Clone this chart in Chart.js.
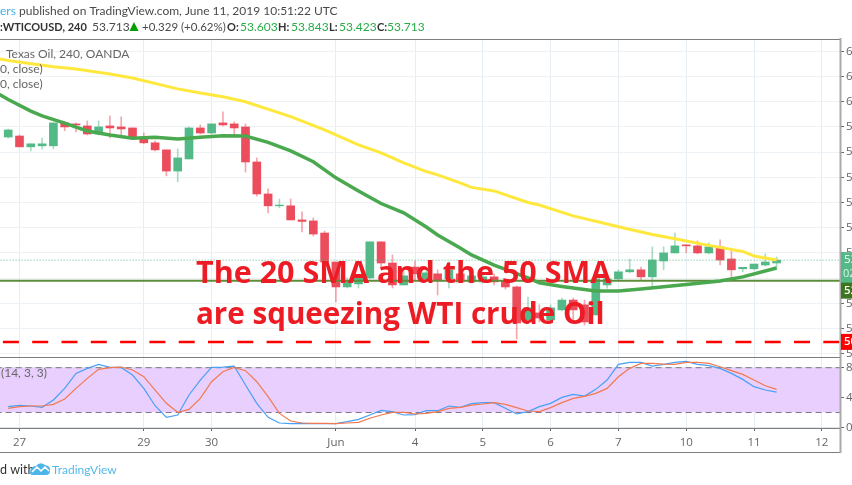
<!DOCTYPE html>
<html>
<head>
<meta charset="utf-8">
<style>html,body{margin:0;padding:0;background:#fff;overflow:hidden}canvas{display:block}</style>
<script src="https://cdn.jsdelivr.net/npm/chart.js@4"></script>
</head>
<body>
<div style="width:852px;height:485px"><canvas id="c" width="852" height="485"></canvas></div>
<script>
const open = [58.60,58.64,58.21,58.25,58.25,59.16,59.12,59.04,58.72,59.04,59.00,58.96,58.60,58.37,58.09,57.25,57.73,58.96,58.76,59.16,59.12,59.00,57.61,56.34,55.87,55.87,55.31,55.27,54.79,53.64,52.65,52.77,53.01,54.44,53.60,52.73,53.44,52.97,53.17,52.97,53.17,52.85,52.85,53.05,52.89,52.65,51.34,51.62,51.34,51.74,52.13,51.94,51.54,52.73,52.97,53.25,53.33,53.05,53.68,54.00,54.32,54.28,54.00,54.24,53.76,53.37,53.37,53.52,53.60];
const close = [58.88,58.21,58.33,58.33,59.16,59.00,59.08,58.72,59.00,58.96,58.92,58.60,58.37,58.09,57.25,57.77,58.96,58.76,59.12,59.08,58.96,57.61,56.34,55.87,55.90,55.31,55.25,54.75,53.64,52.65,52.90,53.01,54.44,53.60,52.73,53.09,53.17,53.21,52.89,53.33,52.85,53.09,53.05,52.85,52.65,51.22,51.82,51.42,51.82,52.13,51.74,51.26,52.97,52.97,53.25,53.33,53.05,53.72,54.00,54.28,54.28,54.00,54.24,53.72,53.33,53.43,53.56,53.64,53.713];
const high = [58.92,58.68,58.33,58.56,59.16,59.20,59.16,59.24,59.24,59.44,59.40,58.96,58.76,58.44,58.09,58.13,59.00,59.08,59.12,59.60,59.20,59.12,57.77,56.54,56.14,56.14,55.63,55.39,54.87,53.64,53.01,53.13,54.44,54.44,53.92,53.33,53.68,53.40,53.33,53.64,53.40,53.21,53.13,53.17,52.93,52.69,52.25,51.94,51.94,52.21,52.21,52.13,52.97,53.09,53.33,53.76,53.44,54.24,54.24,54.79,54.32,54.48,54.40,54.52,54.12,53.40,53.40,53.96,53.84];
const low = [58.56,58.21,58.05,58.13,58.13,58.85,58.80,58.68,58.68,58.56,58.60,58.56,58.33,58.05,57.06,56.82,57.73,58.72,58.72,59.04,58.60,57.21,56.26,55.59,55.79,55.31,54.83,54.67,53.56,52.06,52.61,52.61,52.97,53.44,52.61,52.73,52.93,52.85,52.33,52.61,52.85,52.81,52.81,52.73,52.57,50.59,51.22,51.26,51.26,51.70,51.26,51.14,51.54,52.60,52.89,53.21,52.93,52.61,53.33,54.00,54.00,53.96,53.96,53.52,52.99,53.25,53.33,53.48,53.40];

const sma50Idx = [-1,0,4,6,9,11,15,17,19,21,25,28,31,33,35,37,38,40,41,43,46,47,50,53,54,57,59,62,65,66,68];
const sma50Val = [61.72,61.64,61.39,61.30,61.10,60.94,60.51,60.35,60.20,60.00,59.41,58.88,58.29,57.97,57.57,57.23,57.10,56.78,56.60,56.46,56.00,55.90,55.47,55.15,55.04,54.73,54.56,54.30,54.06,53.88,53.72];
const sma20Idx = [-1,0,2,3,5,7,9,11,13,15,17,19,21,23,25,27,29,31,33,35,37,38,40,41,43,46,47,49,52,54,56,60,63,65,68];
const sma20Val = [60.35,60.09,59.63,59.44,59.15,58.84,58.68,58.55,58.59,58.52,58.59,58.65,58.64,58.39,58.05,57.62,56.98,56.46,55.96,55.59,55.03,54.71,54.20,53.92,53.52,53.01,52.81,52.67,52.49,52.49,52.57,52.75,52.89,53.05,53.40];

const stochK = [27.6,29.4,28.5,26.7,36.6,52.2,72.4,79.1,84.5,80.4,80.4,70.1,52.2,28.9,13.3,16.4,43.3,63.4,80.4,80.9,82.2,56.7,32.1,13.3,5.7,4.8,5.2,4.8,4.8,4.8,7.5,10.6,16.4,22.7,20.9,16.4,16.9,22.2,22.2,28.5,26.7,31.6,33,33,25.4,17.8,20.9,27.6,32.1,40.1,44.2,41.9,50.9,63.4,84.5,87.2,87.2,82.2,84.5,87.2,88.5,84.5,82.7,79.1,72.4,64.3,54.5,50,47.3];
const stochD = [25.4,27.6,28.5,28.5,30.7,37.9,52.2,65.7,77.8,80,80.9,76.9,67.9,50,32.1,20,24,38.8,61.2,74.6,80.4,76,61.2,41,18.6,8.3,5.7,5.2,5.2,4.8,5.7,6.6,12,16.4,20,20,17.8,18.6,20.9,25.4,26.7,29.8,31.2,33,30.7,26.3,21.8,20.9,26.3,33,38.8,41.5,45.5,52.2,67.9,79.1,85.8,85.8,84.9,84.5,87.2,87.2,85.8,81.3,76,71,63.4,55.8,50.9];

const priceTicks = [50,51,52,53,54,55,56,57,58,59,60,61,62];
const stochTicks = [0,40,80];
const timeTickIdx = [1,12,18,29,36,42,48,54,60,66,72];
const timeTickLabels = ['27','29','30','Jun','4','5','6','7','10','11','12'];

const lastPrice = 53.713;
const supportLevel = 52.90;
const lowLevel = 50.47;
const stochUpper = 80;
const stochLower = 20;

const UP = '#53b987', DOWN = '#eb4d5c';
const FONT = '"Open Sans", sans-serif';
const HEAD = 'Lato, sans-serif';
const xMin = -0.726, xMax = 73.61;
const idx = open.map((_, i) => i);
const flat = (v) => [{x:-2,y:v},{x:75,y:v}];
const line = (xs, ys) => xs.map((x, i) => ({x, y: ys[i]}));
const colors = idx.map(i => close[i] >= open[i] ? UP : DOWN);
const wickColors = idx.map(i => close[i] >= open[i] ? 'rgba(83,185,135,.5)' : 'rgba(235,77,92,.5)');

const overlay = {
  id: 'overlay',
  afterDraw(chart) {
    const c = chart.ctx, a = chart.chartArea, y = chart.scales.y, x = chart.scales.x;
    const text = (t, px, py, font, col, align) => {
      c.font = font; c.fillStyle = col; c.textAlign = align || 'left'; c.textBaseline = 'middle'; c.fillText(t, px, py);
    };
    c.save();
    // frame
    c.strokeStyle = '#7d7d7d'; c.lineWidth = 1;
    [a.top - .5, y.bottom, a.bottom, x.bottom].forEach(v => {
      c.beginPath(); c.moveTo(0, Math.round(v) + .5); c.lineTo(a.right, Math.round(v) + .5); c.stroke();
    });
    c.strokeStyle = '#aaaaaa'; c.lineWidth = 2;
    c.beginPath(); c.moveTo(a.right + .5, a.top - 1); c.lineTo(a.right + .5, x.bottom + 1); c.stroke();

    // price tags on the axis
    const tag = (top, bottom, bg, label) => {
      c.fillStyle = bg; c.fillRect(a.right + 1, top, 12, bottom - top);
      text(label, a.right + 4, (top + bottom) / 2, '600 11.5px ' + FONT, '#fff');
    };
    const ly = y.getPixelForValue(lastPrice);
    c.fillStyle = '#53b987'; c.fillRect(a.right + 1, ly - 8, 12, 31);
    text(lastPrice.toFixed(3), a.right + 4, ly, '11.5px ' + FONT, '#fff');
    text('02:08:38', a.right + 3, ly + 14, '11px ' + FONT, '#dff3e8');
    tag(y.getPixelForValue(supportLevel) + 2, y.getPixelForValue(supportLevel) + 18, '#3b761c', supportLevel.toFixed(3));
    tag(y.getPixelForValue(lowLevel) - 8, y.getPixelForValue(lowLevel) + 8, '#ff0000', lowLevel.toFixed(3));

    // header
    const g = '#4a4a4a', gr = '#27ae48';
    const f = '12px ' + HEAD, fb = 'bold 11px ' + HEAD;
    text('ers', 0, 11, f, '#45b0e6');
    text('published on TradingView.com, June 11, 2019 10:51:22 UTC', 19, 11, f, g);
    text(':WTICOUSD, 240', 0, 27, fb, '#333');
    text('53.713', 92, 27, f, g);
    c.fillStyle = '#00a000'; c.beginPath(); c.moveTo(134, 22); c.lineTo(138.5, 31); c.lineTo(129.5, 31); c.closePath(); c.fill();
    text('+0.329 (+0.62%)', 142, 27, '11.5px ' + HEAD, g);
    text('O:', 227, 27, fb, '#333'); text('53.603', 240, 27, f, gr);
    text('H:', 278, 27, fb, '#333'); text('53.843', 291, 27, f, gr);
    text('L:', 329, 27, fb, '#333'); text('53.423', 339, 27, f, gr);
    text('C:', 377, 27, fb, '#333'); text('53.713', 387, 27, f, gr);

    // study legends
    text('Texas Oil, 240, OANDA', 6, 54, f, '#666');
    text('0, close)', 0, 69, f, '#666');
    text('0, close)', 0, 84, f, '#666');
    text('(14, 3, 3)', 1, 373, f, '#666');

    // footer
    text('d with', 0, 470, '12.5px ' + HEAD, '#333');
    c.fillStyle = '#4db6e8';
    c.beginPath(); c.moveTo(30, 473); c.quadraticCurveTo(30, 466, 36, 466); c.quadraticCurveTo(40, 461, 45, 465);
    c.quadraticCurveTo(51, 466, 50, 471); c.quadraticCurveTo(50, 475, 46, 475); c.lineTo(34, 475); c.quadraticCurveTo(30, 475, 30, 473); c.fill();
    c.strokeStyle = '#fff'; c.lineWidth = 1.5; c.beginPath(); c.moveTo(32, 472); c.lineTo(37, 467); c.lineTo(41, 471); c.lineTo(45, 467); c.lineTo(49, 471); c.stroke();
    text('TradingView', 52, 470, '12px ' + HEAD, '#55b8ea');

    // annotation
    const red = '#ed1c24';
    text('The 20 SMA and the 50 SMA', 196, 274, 'bold 30.5px ' + FONT, red);
    text('are squeezing WTI crude Oil', 196, 316, 'bold 29.6px ' + FONT, red);
    c.restore();
  }
};

new Chart(document.getElementById('c'), {
  type: 'bar',
  plugins: [overlay],
  data: {
    datasets: [
      { label: 'wick', data: idx.map(i => ({x:i, y:[low[i], high[i]]})), backgroundColor: wickColors, barThickness: 1, grouped: false, yAxisID: 'y', order: 9 },
      { label: 'body', data: idx.map(i => ({x:i, y:[open[i], close[i]]})), backgroundColor: colors, barThickness: 8, grouped: false, yAxisID: 'y', order: 8 },
      { type: 'line', label: 'SMA 50', data: line(sma50Idx, sma50Val), borderColor: '#ffe83d', borderWidth: 3, pointRadius: 0, tension: 0, yAxisID: 'y', order: 3 },
      { type: 'line', label: 'SMA 20', data: line(sma20Idx, sma20Val), borderColor: '#4aa84f', borderWidth: 3.5, pointRadius: 0, tension: 0, yAxisID: 'y', order: 2 },
      { type: 'line', label: 'Support', data: flat(supportLevel), borderColor: '#5d8c3a', borderWidth: 2, pointRadius: 0, yAxisID: 'y', order: 4 },
      { type: 'line', label: 'Last', data: flat(lastPrice), borderColor: '#53b987', borderWidth: 1, borderDash: [1,2], pointRadius: 0, yAxisID: 'y', order: 5 },
      { type: 'line', label: 'Low', data: flat(lowLevel), borderColor: '#ff0000', borderWidth: 2.5, borderDash: [16,13.3], borderDashOffset: 12, pointRadius: 0, yAxisID: 'y', order: 1 },
      { type: 'line', label: 'Upper', data: flat(stochUpper), borderColor: '#8d8a94', borderWidth: 1.2, borderDash: [6,4], pointRadius: 0, fill: '+1', backgroundColor: '#e9cffe', yAxisID: 's', order: 7 },
      { type: 'line', label: 'Lower', data: flat(stochLower), borderColor: '#5c5a66', borderWidth: 1.2, borderDash: [6,4], pointRadius: 0, yAxisID: 's', order: 7 },
      { type: 'line', label: '%D', data: line(idx, stochD), borderColor: '#f2794f', borderWidth: 1.2, pointRadius: 0, yAxisID: 's', order: 6 },
      { type: 'line', label: '%K', data: line(idx, stochK), borderColor: '#47a0f5', borderWidth: 1.2, pointRadius: 0, yAxisID: 's', order: 6.5 }
    ]
  },
  options: {
    responsive: false,
    animation: false,
    layout: { autoPadding: false, padding: { top: 39, bottom: 33, left: 0, right: 0 } },
    plugins: { legend: { display: false }, tooltip: { enabled: false } },
    scales: {
      x: {
        type: 'linear', min: xMin, max: xMax, offset: false,
        grid: { offset: false, color: '#e6eef3', lineWidth: 1, tickLength: 3, tickColor: '#666' },
        border: { display: false },
        afterBuildTicks(sc) { sc.ticks = timeTickIdx.map(v => ({value: v})); },
        afterFit(sc) { sc.height = 24; },
        ticks: { autoSkip: false, maxRotation: 0, padding: 5, color: '#666', font: { family: FONT, size: 11.5 },
                 callback: v => timeTickLabels[timeTickIdx.indexOf(v)] }
      },
      y: {
        type: 'linear', position: 'right', stack: 'panes', stackWeight: 318,
        min: 49.87, max: 62.49,
        grid: { color: '#edf2f6', lineWidth: 1, tickLength: 4, tickColor: '#666' },
        border: { display: false },
        afterBuildTicks(sc) { sc.ticks = priceTicks.map(v => ({value: v})); },
        afterFit(sc) { sc.width = 12; },
        ticks: { autoSkip: false, padding: 2, color: '#666', font: { family: FONT, size: 11.5 }, callback: v => String(v) }
      },
      s: {
        type: 'linear', position: 'right', stack: 'panes', stackWeight: 71,
        min: -1.05, max: 94.4,
        grid: { color: '#dfe6ec', lineWidth: 1, tickLength: 4, tickColor: '#666' },
        border: { display: false },
        afterBuildTicks(sc) { sc.ticks = stochTicks.map(v => ({value: v})); },
        afterFit(sc) { sc.width = 12; },
        ticks: { autoSkip: false, padding: 2, color: '#666', font: { family: FONT, size: 11.5 }, callback: v => String(v) }
      }
    }
  }
});
</script>
</body>
</html>
